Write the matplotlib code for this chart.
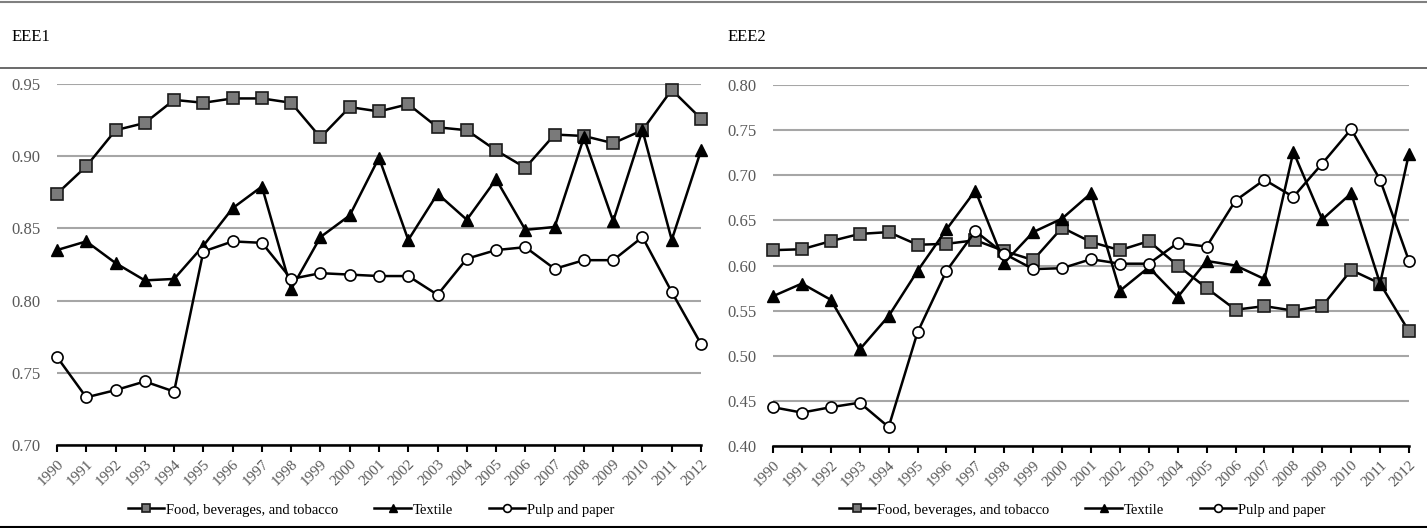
import matplotlib.pyplot as plt
from matplotlib.lines import Line2D

plt.rcParams['font.family'] = ['Liberation Serif', 'DejaVu Serif']

years = [str(y) for y in range(1990, 2013)]
legend_names = ["Food, beverages, and tobacco", "Textile", "Pulp and paper"]

# EEE1
food1 = [0.874, 0.893, 0.918, 0.923, 0.939, 0.937, 0.940, 0.940, 0.937, 0.913, 0.934, 0.931,
         0.936, 0.920, 0.918, 0.904, 0.892, 0.915, 0.914, 0.909, 0.918, 0.946, 0.926]
textile1 = [0.835, 0.841, 0.826, 0.814, 0.815, 0.838, 0.864, 0.879, 0.808, 0.844, 0.859, 0.899,
            0.842, 0.874, 0.856, 0.884, 0.849, 0.851, 0.913, 0.855, 0.918, 0.842, 0.904]
pulp1 = [0.761, 0.733, 0.738, 0.744, 0.737, 0.834, 0.841, 0.840, 0.815, 0.819, 0.818, 0.817,
         0.817, 0.804, 0.829, 0.835, 0.837, 0.822, 0.828, 0.828, 0.844, 0.806, 0.770]

# EEE2
food2 = [0.617, 0.618, 0.627, 0.635, 0.637, 0.623, 0.624, 0.628, 0.616, 0.606, 0.642, 0.626,
         0.617, 0.627, 0.600, 0.575, 0.551, 0.555, 0.550, 0.555, 0.595, 0.580, 0.527]
textile2 = [0.566, 0.580, 0.562, 0.507, 0.544, 0.594, 0.640, 0.683, 0.603, 0.637, 0.652, 0.680,
            0.572, 0.598, 0.565, 0.605, 0.600, 0.585, 0.726, 0.651, 0.680, 0.580, 0.724]
pulp2 = [0.443, 0.437, 0.443, 0.448, 0.421, 0.526, 0.594, 0.638, 0.613, 0.596, 0.597, 0.607,
         0.602, 0.602, 0.625, 0.621, 0.672, 0.695, 0.676, 0.713, 0.751, 0.695, 0.605]

yticks1 = [0.70, 0.75, 0.80, 0.85, 0.90, 0.95]
yticks2 = [0.40, 0.45, 0.50, 0.55, 0.60, 0.65, 0.70, 0.75, 0.80]

fig = plt.figure(figsize=(14.27, 5.28), dpi=100)

# frame lines of the figure
fig.add_artist(Line2D([0, 1], [1 - 2/528, 1 - 2/528], color='#808080', lw=1.5))
fig.add_artist(Line2D([0, 1], [1 - 68/528, 1 - 68/528], color='#505050', lw=1.2))
fig.add_artist(Line2D([0, 1], [1 - 527/528, 1 - 527/528], color='black', lw=1.5))

fig.text(12/1427, 1 - 37/528, "EEE1", fontsize=12, va='center', ha='left')
fig.text(728/1427, 1 - 37/528, "EEE2", fontsize=12, va='center', ha='left')


def draw(rect, food, textile, pulp, yticks, leg_x):
    ax = fig.add_axes(rect)
    x = range(len(years))
    ax.plot(x, food, color='black', lw=1.8, marker='s', ms=8, mfc='#7a7a7a', mec='#1a1a1a', mew=1.2,
            label=legend_names[0], zorder=3, clip_on=False)
    ax.plot(x, textile, color='black', lw=1.8, marker='^', ms=8, mfc='black', mec='black',
            label=legend_names[1], zorder=3, clip_on=False)
    ax.plot(x, pulp, color='black', lw=1.8, marker='o', ms=8, mfc='white', mec='black', mew=1.2,
            label=legend_names[2], zorder=3, clip_on=False)
    ax.set_xlim(0, len(years) - 1)
    ax.set_ylim(yticks[0], yticks[-1])
    ax.set_yticks(yticks)
    ax.set_yticklabels([f"{v:.2f}" for v in yticks], color='#595959', fontsize=12)
    ax.set_xticks(list(x))
    ax.set_xticklabels(years, rotation=45, ha='right', rotation_mode='anchor', color='#595959', fontsize=11)
    for s in ['top', 'right', 'left']:
        ax.spines[s].set_visible(False)
    ax.spines['bottom'].set_linewidth(1.8)
    ax.spines['bottom'].set_zorder(2)
    ax.tick_params(axis='y', length=0, pad=12)
    ax.tick_params(axis='x', direction='out', length=5, width=1.5, pad=4)
    ax.yaxis.grid(True, color='#a6a6a6', lw=1.5)
    ax.set_axisbelow(True)
    ax.legend(loc='center', bbox_to_anchor=(leg_x, 1 - 510/528), bbox_transform=fig.transFigure,
              ncol=3, frameon=False, fontsize=10.5, handlelength=2.5, columnspacing=2.5,
              handletextpad=0.1, markerscale=0.7)
    return ax


draw([57/1427, 1 - 445/528, 644/1427, 361/528], food1, textile1, pulp1, yticks1, 371/1427)
draw([773/1427, 1 - 446/528, 636/1427, 361/528], food2, textile2, pulp2, yticks2, 1082/1427)

fig.savefig("out.png", dpi=100)
